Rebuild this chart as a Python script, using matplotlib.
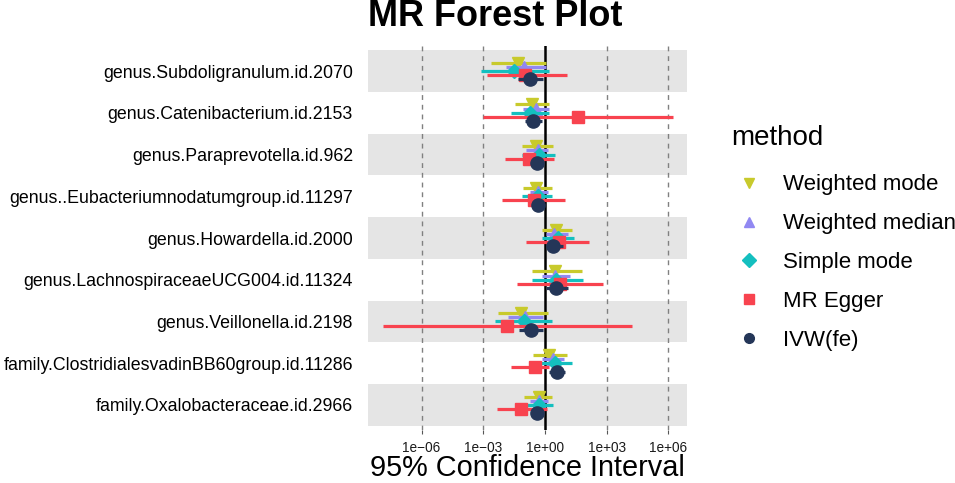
import numpy as np
import matplotlib.pyplot as plt
from matplotlib.lines import Line2D

plt.rcParams['font.family'] = ['Liberation Sans', 'DejaVu Sans']

exposures = [
    "genus.Subdoligranulum.id.2070",
    "genus.Catenibacterium.id.2153",
    "genus.Paraprevotella.id.962",
    "genus..Eubacteriumnodatumgroup.id.11297",
    "genus.Howardella.id.2000",
    "genus.LachnospiraceaeUCG004.id.11324",
    "genus.Veillonella.id.2198",
    "family.ClostridialesvadinBB60group.id.11286",
    "family.Oxalobacteraceae.id.2966",
]

methods = ["Weighted mode", "Weighted median", "Simple mode", "MR Egger", "IVW(fe)"]

# log10 of estimate, lower and upper CI for each method (rows follow exposures)
wmode_est = [-1.33, -0.65, -0.44, -0.44, 0.53, 0.49, -1.17, 0.21, -0.31]
wmode_lo = [-2.62, -1.44, -1.13, -1.08, -0.15, -0.63, -2.27, -0.60, -1.00]
wmode_hi = [0.05, 0.18, 0.37, 0.32, 1.31, 1.80, 0.16, 1.07, 0.34]

wmed_est = [-1.00, -0.44, -0.36, -0.32, 0.44, 0.50, -0.96, 0.37, -0.28]
wmed_lo = [-1.90, -1.08, -0.92, -0.73, 0.05, -0.16, -1.78, -0.15, -0.71]
wmed_hi = [0.05, 0.18, 0.13, 0.13, 1.10, 1.21, -0.11, 0.94, 0.13]

smode_est = [-1.49, -0.73, -0.28, -0.36, 0.62, 0.53, -1.04, 0.49, -0.28]
smode_lo = [-3.10, -1.64, -1.13, -1.12, -0.15, -0.63, -2.43, -0.19, -0.87]
smode_hi = [0.18, 0.18, 0.49, 0.34, 1.39, 1.84, 0.32, 1.30, 0.37]

egger_est = [-0.96, 1.59, -0.79, -0.55, 0.69, 0.74, -1.83, -0.47, -1.17]
egger_lo = [-2.83, -3.02, -1.93, -2.09, -0.92, -1.34, -7.88, -1.65, -2.35]
egger_hi = [1.05, 6.20, 0.42, 0.99, 2.15, 2.83, 4.22, 0.18, 0.10]

ivw_est = [-0.71, -0.57, -0.40, -0.34, 0.37, 0.55, -0.68, 0.58, -0.39]
ivw_lo = [-1.30, -0.96, -0.68, -0.60, 0.20, 0.05, -1.25, 0.21, -0.65]
ivw_hi = [-0.11, -0.16, -0.15, -0.08, 0.86, 1.10, -0.11, 0.99, -0.08]

est = [wmode_est, wmed_est, smode_est, egger_est, ivw_est]
lo = [wmode_lo, wmed_lo, smode_lo, egger_lo, ivw_lo]
hi = [wmode_hi, wmed_hi, smode_hi, egger_hi, ivw_hi]

colors = ["#C8CA2C", "#9188F2", "#14BFBF", "#F8434F", "#243658"]
markers = ["v", "^", "D", "s", "o"]
msizes = [8.5, 8.5, 7.5, 8, 9.5]
offsets = [-0.2, -0.1, 0.0, 0.1, 0.2]

W, H = 955, 483
fig = plt.figure(figsize=(W / 100, H / 100), dpi=100)
ax = fig.add_axes([368 / W, 1 - 430 / H, (687 - 368) / W, (430 - 46) / H])

n = len(exposures)
for i in range(n):
    if i % 2 == 0:
        ax.axhspan(i - 0.5, i + 0.5, color="#E5E5E5", lw=0, zorder=0)

for t in [1e-6, 1e-3, 1e3, 1e6]:
    ax.axvline(t, color="#808080", ls=(0, (3.5, 3.5)), lw=1.0, zorder=1)
ax.axvline(1, color="black", lw=1.8, zorder=2)

y = np.arange(n)
for k in range(len(methods)):
    yy = y + offsets[k]
    ax.hlines(yy, 10 ** np.array(lo[k]), 10 ** np.array(hi[k]), color=colors[k], lw=2.3, zorder=3 + k)
    ax.plot(10 ** np.array(est[k]), yy, ls="none", marker=markers[k], ms=msizes[k],
            color=colors[k], mec=colors[k], zorder=3 + k)

ax.set_xscale("log")
ax.set_xlim(10 ** -8.6, 10 ** 6.9)
ax.set_ylim(n - 0.4, -0.6)
ax.set_xticks([1e-6, 1e-3, 1e0, 1e3, 1e6])
ax.set_xticklabels(["1e\u221206", "1e\u221203", "1e+00", "1e+03", "1e+06"], fontsize=9.8, color="#1a1a1a")
ax.minorticks_off()
ax.set_yticks(y)
ax.set_yticklabels(exposures, fontsize=12.8, color="black")
ax.tick_params(axis="x", length=3, width=0.8, color="#555555", pad=5)
ax.tick_params(axis="y", length=0, pad=10.8)
for s in ax.spines.values():
    s.set_visible(False)

fig.text(527 / W, 1 - 482.5 / H, "95% Confidence Interval", fontsize=20.8,
         ha="center", va="bottom")
fig.text(368 / W, 1 - 26 / H, "MR Forest Plot", fontsize=26, fontweight="bold",
         ha="left", va="baseline")

fig.text(731 / W, 1 - 145 / H, "method", fontsize=20, ha="left", va="baseline")
handles = [Line2D([], [], ls="none", marker=markers[k], ms=7, color=colors[k]) for k in range(len(methods))]
fig.legend(handles, methods, loc="upper left", bbox_to_anchor=(731 / W, 1 - 174.5 / H),
           frameon=False, fontsize=16,
           labelspacing=0.805, handlelength=1.6, handletextpad=0.74,
           borderaxespad=0, borderpad=0)

plt.savefig("out.png", dpi=100)
